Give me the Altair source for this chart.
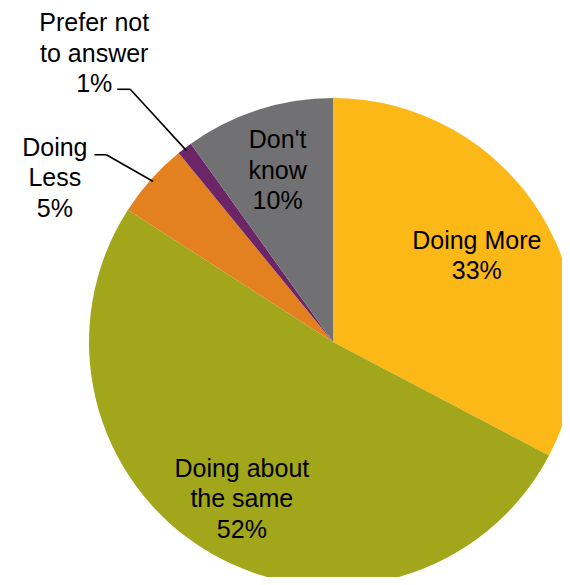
import math
import altair as alt
import pandas as pd

# ---------------- data ----------------
categories = ["Doing More", "Doing about the same", "Doing Less",
              "Prefer not to answer", "Don't know"]
values = [32.7, 51.4, 5.0, 1.0, 9.9]
pct_labels = ["33%", "52%", "5%", "1%", "10%"]
label_lines = [["Doing More"], ["Doing about", "the same"], ["Doing", "Less"],
               ["Prefer not", "to answer"], ["Don't", "know"]]
colors = ["#FBB817", "#A1A61A", "#E3801F", "#6C2668", "#717173"]

# ---------------- style / layout ----------------
W, H = 554, 569
CX, CY = 325, 334          # pie centre in plot coordinates
R = 244                    # pie radius
FONT = "Liberation Sans"
FS = 25
LH = 30.5
CAP = 0.716 * FS
inside_r = {"Doing More": 168, "Doing about the same": 181, "Don't know": 181}
# outside labels: elbow radius / angle shift (deg), leader horizontal length,
# text centre dx from the leader end, which line the leader points at
outside = {
    "Doing Less": dict(elbow_r=294, dth=-2.2, seg=12, text_dx=-39.5, anchor_line=0, dy=1),
    "Prefer not to answer": dict(elbow_r=324, dth=-1.3, seg=13, text_dx=-23, anchor_line=2, dy=3),
}

total = sum(values)
pie_df = pd.DataFrame({"category": categories, "value": values,
                       "idx": list(range(len(categories)))})

# mid angle of each slice (from 12 o'clock, clockwise)
mids = []
cum = 0.0
for v in values:
    mids.append(2 * math.pi * (cum + v / 2) / total)
    cum += v

text_rows = []
seg_rows = []
for cat, mid, lines, pct in zip(categories, mids, label_lines, pct_labels):
    all_lines = lines + [pct]
    n = len(all_lines)
    if cat in inside_r:
        r = inside_r[cat]
        cx = CX + r * math.sin(mid)
        cy = CY - r * math.cos(mid)
        first = cy - ((n - 1) * LH - CAP) / 2
        for i, t in enumerate(all_lines):
            text_rows.append({"x": cx, "y": first + i * LH, "t": t})
    else:
        o = outside[cat]
        ex0 = CX + (R - 3) * math.sin(mid)
        ey0 = CY - (R - 3) * math.cos(mid)
        a = mid + math.radians(o["dth"])
        ex = CX + o["elbow_r"] * math.sin(a)
        ey = CY - o["elbow_r"] * math.cos(a)
        sx = ex - o["seg"]
        seg_rows.append({"x": ex0, "y": ey0, "x2": ex, "y2": ey})
        seg_rows.append({"x": ex, "y": ey, "x2": sx, "y2": ey})
        tx = sx + o["text_dx"]
        base = ey + o["dy"] - o["anchor_line"] * LH
        for i, t in enumerate(all_lines):
            text_rows.append({"x": tx, "y": base + i * LH, "t": t})

text_df = pd.DataFrame(text_rows)
seg_df = pd.DataFrame(seg_rows)

pie = alt.Chart(pie_df).mark_arc(radius=R, stroke=None).encode(
    theta=alt.Theta("value:Q", stack=True),
    color=alt.Color("category:N", scale=alt.Scale(domain=categories, range=colors),
                    legend=None),
    order=alt.Order("idx:Q"),
    x=alt.value(CX),
    y=alt.value(CY),
)

leaders = alt.Chart(seg_df).mark_rule(color="black", strokeWidth=1.6).encode(
    x=alt.X("x:Q", scale=None), y=alt.Y("y:Q", scale=None),
    x2="x2:Q", y2="y2:Q",
)

labels = alt.Chart(text_df).mark_text(
    align="center", baseline="alphabetic", font=FONT, fontSize=FS, color="black"
).encode(
    x=alt.X("x:Q", scale=None), y=alt.Y("y:Q", scale=None), text="t:N",
)

chart = alt.layer(pie, leaders, labels).properties(
    width=W, height=H, padding=0, autosize="none", background="white"
).configure_view(stroke=None)

chart.save("out.html", embed_options={"renderer": "svg", "actions": False})
